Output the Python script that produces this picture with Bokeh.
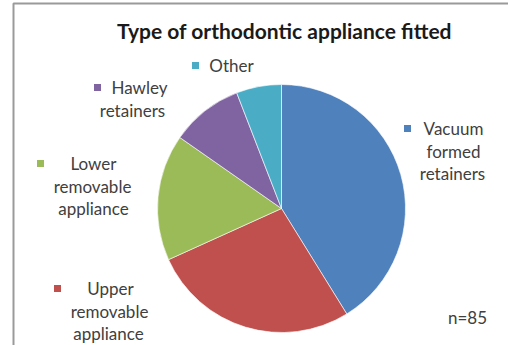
import numpy as np
from bokeh.plotting import figure
from bokeh.models import ColumnDataSource
from bokeh.core.properties import value
from bokeh.embed import file_html
from bokeh.resources import INLINE

# ---- data ----
categories = ["Vacuum formed retainers", "Upper removable appliance",
              "Lower removable appliance", "Hawley retainers", "Other"]
counts = [35, 23, 14, 8, 5]
colors = ["#4F81BD", "#C0504D", "#9BBB59", "#8064A2", "#4BACC6"]
label_lines = [["Vacuum", "formed", "retainers"],
               ["Upper", "removable", "appliance"],
               ["Lower", "removable", "appliance"],
               ["Hawley", "retainers"],
               ["Other"]]
title_text = "Type of orthodontic appliance fitted"
note_text = "n=85"

W, H = 508, 345
FONT = "Lato"

p = figure(width=W, height=H, x_range=(0, W), y_range=(0, H),
           output_backend="svg", toolbar_location=None, min_border=0)
p.axis.visible = False
p.grid.visible = False
p.outline_line_color = None
p.background_fill_color = "white"
p.border_fill_color = "white"

def sy(y):
    return H - y

# chart border
p.line(x=[13, 13, W + 5], y=[sy(H + 5), sy(3), sy(3)], line_color="#9a9a9a", line_width=2)

# ---- pie ----
cx, cy, r = 281, sy(208), 124
vals = np.array(counts, dtype=float)
frac = vals / vals.sum()
ends = np.cumsum(frac) * 2 * np.pi
starts = ends - frac * 2 * np.pi
src = ColumnDataSource(dict(
    start=np.pi / 2 - starts, end=np.pi / 2 - ends, color=colors, cat=categories))
p.wedge(x=cx, y=cy, radius=r, start_angle="start", end_angle="end",
        direction="clock", fill_color="color", line_color="white", line_width=0.6,
        source=src)

# ---- title ----
p.text(x=[284], y=[sy(30)], text=[title_text], text_font=value(FONT),
       text_font_style="bold", text_font_size="21px", text_color="#1a1a1a",
       text_align="center", text_baseline="middle")

# ---- labels (layout: key marker position, text centre x, first line y) ----
label_layout = [
    (407, 453, 128),   # Vacuum
    (57, 110, 288),    # Upper
    (40, 93, 163),     # Lower
    (97, 139, 87),     # Hawley
    (195, 231, 65),    # Other
]
line_gap = 22.5
text_centre_offsets = [
    [0, 0, -1],
    [0, -1, -2],
    [0, -1, 0],
    [0, -7],
    [0],
]
for i, (mx, tx, ty) in enumerate(label_layout):
    p.scatter(x=[mx], y=[sy(ty)], marker="square", size=7,
              fill_color=colors[i], line_color=None)
    lines = label_lines[i]
    xs = [tx + text_centre_offsets[i][k] for k in range(len(lines))]
    ys = [sy(ty + k * line_gap) for k in range(len(lines))]
    p.text(x=xs, y=ys, text=lines, text_font=value(FONT), text_font_size="17px",
           text_color="#404040", text_align="center", text_baseline="middle")

p.text(x=[467], y=[sy(317)], text=[note_text], text_font=value(FONT),
       text_font_size="17px", text_color="#404040",
       text_align="center", text_baseline="middle")

open("out.html", "w").write(file_html(p, INLINE))
